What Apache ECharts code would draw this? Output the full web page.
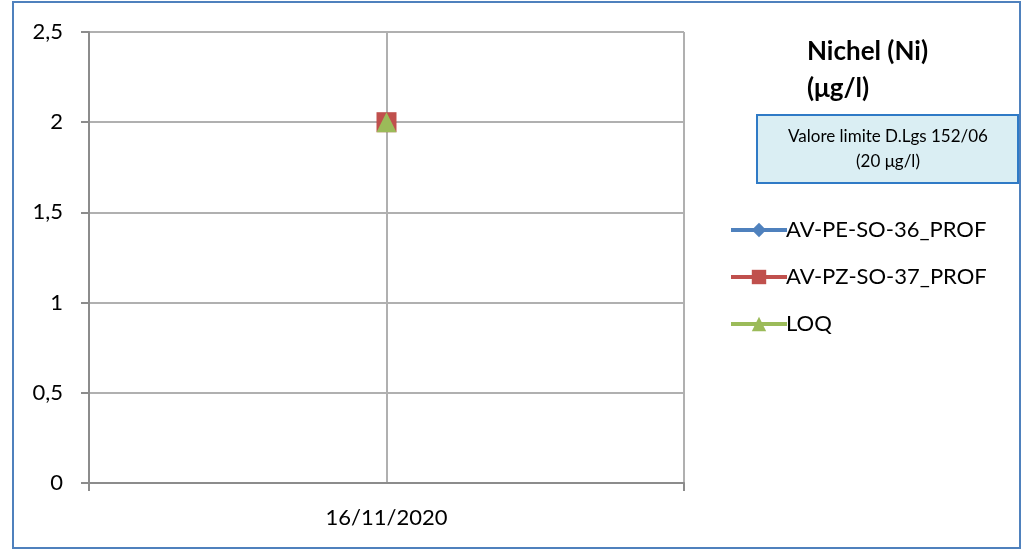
<!DOCTYPE html>
<html><head><meta charset="utf-8">
<script src="https://cdn.jsdelivr.net/npm/echarts@6/dist/echarts.min.js"></script>
<style>html,body{margin:0;padding:0;background:#fff}#c{width:1033px;height:551px}</style>
</head><body><div id="c"></div>
<script>
const categories = ['16/11/2020'];
const seriesNames = ['AV-PE-SO-36_PROF', 'AV-PZ-SO-37_PROF', 'LOQ'];
const seriesAV36 = [2];
const seriesAV37 = [2];
const seriesLOQ = [2];
const yTicks = [0, 0.5, 1, 1.5, 2, 2.5];
const titleLines = ['Nichel (Ni)', '(μg/l)'];
const limitText = ['Valore limite D.Lgs 152/06', '(20 μg/l)'];

const FONT = 'Lato';
const chart = echarts.init(document.getElementById('c'));
chart.setOption({
  animation: false,
  textStyle: { fontFamily: FONT },
  grid: { left: 89, top: 32, right: 349, bottom: 68 },
  title: {
    text: titleLines.join('\n'), left: 802, top: 28,
    textStyle: { fontFamily: FONT, fontSize: 26, fontWeight: 'bold', color: '#000', lineHeight: 37 }
  },
  legend: {
    orient: 'vertical', left: 724, top: 214, itemGap: 25,
    itemWidth: 56, itemHeight: 18,
    data: seriesNames,
    lineStyle: { width: 4 },
    textStyle: { fontFamily: FONT, fontSize: 22, color: '#000', padding: [0, 0, 0, -6] }
  },
  xAxis: [{
    type: 'category', data: categories, boundaryGap: true,
    axisLine: { show: true, lineStyle: { color: '#8c8c8c', width: 2 } },
    axisTick: { show: true, length: 8, lineStyle: { color: '#8c8c8c', width: 2 } },
    axisLabel: { fontFamily: FONT, fontSize: 22, color: '#000', margin: 24 },
    splitLine: { show: false }
  }, {
    type: 'value', min: 0, max: 2, interval: 1, show: true, position: 'bottom',
    axisLine: { show: false }, axisTick: { show: false }, axisLabel: { show: false },
    splitLine: { show: true, lineStyle: { color: '#b0b0b0', width: 2 } }
  }],
  yAxis: {
    type: 'value', min: 0, max: 2.5, interval: 0.5,
    axisLine: { show: true, lineStyle: { color: '#8c8c8c', width: 2 } },
    axisTick: { show: true, length: 8, lineStyle: { color: '#8c8c8c', width: 2 } },
    axisLabel: { fontFamily: FONT, fontSize: 22, color: '#000', margin: 26,
      formatter: v => String(v).replace('.', ',') },
    splitLine: { show: true, lineStyle: { color: '#b0b0b0', width: 2 } }
  },
  series: [
    { name: seriesNames[0], type: 'line', data: seriesAV36, symbol: 'diamond', symbolSize: 20,
      itemStyle: { color: '#4F81BD' }, lineStyle: { width: 4, color: '#4F81BD' } },
    { name: seriesNames[1], type: 'line', data: seriesAV37, symbol: 'rect', symbolSize: 20,
      itemStyle: { color: '#C0504D' }, lineStyle: { width: 4, color: '#C0504D' } },
    { name: seriesNames[2], type: 'line', data: seriesLOQ, symbol: 'triangle', symbolSize: 20,
      itemStyle: { color: '#9BBB59' }, lineStyle: { width: 4, color: '#9BBB59' } }
  ],
  graphic: [
    { type: 'rect', shape: { x: 13, y: 2, width: 1007, height: 546 },
      style: { fill: 'none', stroke: '#4F81BD', lineWidth: 2 }, z: 10 },
    { type: 'rect', shape: { x: 757, y: 115, width: 261, height: 68 },
      style: { fill: '#DAEEF3', stroke: '#2F7AC6', lineWidth: 2 }, z: 5 },
    { type: 'text', x: 888, y: 149, z: 6,
      style: { text: limitText.join('\n'), fill: '#000', font: '17px ' + FONT,
        align: 'center', verticalAlign: 'middle', lineHeight: 25 } }
  ]
});
</script></body></html>
